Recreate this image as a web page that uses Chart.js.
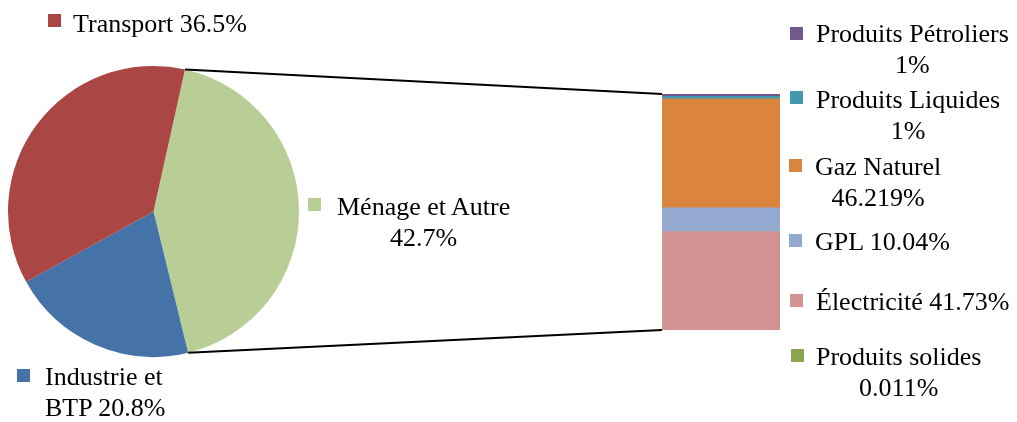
<!DOCTYPE html>
<html>
<head>
<meta charset="utf-8">
<script src="https://cdn.jsdelivr.net/npm/chart.js@4/dist/chart.umd.min.js"></script>
<style>
  html, body { margin: 0; padding: 0; background: #fff; }
  #wrap { position: relative; width: 1017px; height: 422px; overflow: hidden; }
  #wrap canvas { position: absolute; left: 0; top: 0; }
  .lbl { position: absolute; font-family: 'Liberation Serif', 'Times New Roman', serif; font-size: 26px; line-height: 31px; color: #000; white-space: nowrap; }
  .sq { position: absolute; width: 13px; height: 13px; }
</style>
</head>
<body>
<div id="wrap">
  <canvas id="pie" width="1017" height="422"></canvas>
  <canvas id="bar" width="1017" height="422"></canvas>
</div>
<script>
// ---- data ----
const pieLabels = ['Ménage et Autre', 'Industrie et BTP', 'Transport'];
const pieValues = [42.7, 20.8, 36.5];
const pieColors = ['#B9CE96', '#4572A7', '#AA4643'];

const barLabels = ['Électricité', 'GPL', 'Gaz Naturel', 'Produits Liquides', 'Produits Pétroliers', 'Produits solides'];
const barValues = [41.73, 10.04, 46.219, 1, 1, 0.011];
const barColors = ['#D19392', '#93A9CF', '#DB843D', '#4198AF', '#71588F', '#89A54E'];

// ---- label layout (positions only) ----
const pieLabelLayout = [
  { sqx: 308, sqy: 198, tx: 337, ty: 191, firstWords: 3, align: 'center' },
  { sqx: 17,  sqy: 369, tx: 45,  ty: 361, firstWords: 2, align: 'left' },
  { sqx: 48,  sqy: 14,  tx: 73,  ty: 8,   firstWords: 99, align: 'left' }
];
const barLabelLayout = [
  { sqx: 790, sqy: 294, tx: 816, ty: 286, firstWords: 99, align: 'left' },
  { sqx: 789, sqy: 234, tx: 815, ty: 226, firstWords: 99, align: 'left' },
  { sqx: 789, sqy: 159, tx: 815, ty: 151, firstWords: 2, align: 'center' },
  { sqx: 790, sqy: 91,  tx: 816, ty: 84,  firstWords: 2, align: 'center' },
  { sqx: 790, sqy: 27,  tx: 816, ty: 18,  firstWords: 2, align: 'center' },
  { sqx: 791, sqy: 349, tx: 816, ty: 341, firstWords: 2, align: 'center' }
];

function addLabel(name, value, color, lay) {
  const wrap = document.getElementById('wrap');
  const words = (name + ' ' + value + '%').split(' ');
  const first = words.slice(0, lay.firstWords).join(' ');
  const rest = words.slice(lay.firstWords).join(' ');
  const sq = document.createElement('div');
  sq.className = 'sq';
  sq.style.left = lay.sqx + 'px';
  sq.style.top = lay.sqy + 'px';
  sq.style.background = color;
  wrap.appendChild(sq);
  const d = document.createElement('div');
  d.className = 'lbl';
  d.style.left = lay.tx + 'px';
  d.style.top = lay.ty + 'px';
  d.style.textAlign = lay.align;
  d.textContent = first;
  if (rest) { d.appendChild(document.createElement('br')); d.appendChild(document.createTextNode(rest)); }
  wrap.appendChild(d);
}
pieLabels.forEach((n, i) => addLabel(n, pieValues[i], pieColors[i], pieLabelLayout[i]));
barLabels.forEach((n, i) => addLabel(n, barValues[i], barColors[i], barLabelLayout[i]));

// ---- pie chart ----
const pieChart = new Chart(document.getElementById('pie'), {
  type: 'pie',
  data: { labels: pieLabels, datasets: [{ data: pieValues, backgroundColor: pieColors, borderWidth: 0 }] },
  options: {
    responsive: false, animation: false, rotation: 12.5,
    layout: { padding: { left: 8, top: 66, right: 718, bottom: 65 } },
    plugins: { legend: { display: false }, tooltip: { enabled: false } }
  }
});

// ---- connector plugin ----
const connector = {
  id: 'connector',
  afterDraw(chart) {
    const arc = pieChart.getDatasetMeta(0).data[0];
    const ys = chart.scales.y;
    const firstBar = chart.getDatasetMeta(0).data[0];
    const left = firstBar.x - firstBar.width / 2;
    const total = barValues.reduce((a, b) => a + b, 0);
    const topY = ys.getPixelForValue(total);
    const botY = ys.getPixelForValue(0);
    const r = arc.outerRadius;
    const p1 = [arc.x + r * Math.cos(arc.startAngle), arc.y + r * Math.sin(arc.startAngle)];
    const p2 = [arc.x + r * Math.cos(arc.endAngle), arc.y + r * Math.sin(arc.endAngle)];
    const ctx = chart.ctx;
    ctx.save();
    ctx.strokeStyle = '#000';
    ctx.lineWidth = 2;
    ctx.beginPath();
    ctx.moveTo(p1[0], p1[1]); ctx.lineTo(left, topY);
    ctx.moveTo(p2[0], p2[1]); ctx.lineTo(left, botY);
    ctx.stroke();
    ctx.restore();
  }
};

// ---- stacked bar ----
new Chart(document.getElementById('bar'), {
  type: 'bar',
  data: {
    labels: [''],
    datasets: barLabels.map((n, i) => ({ label: n, data: [barValues[i]], backgroundColor: barColors[i], borderWidth: 0, barPercentage: 1, categoryPercentage: 1 }))
  },
  options: {
    responsive: false, animation: false,
    layout: { padding: { left: 662, top: 94, right: 237, bottom: 92 } },
    scales: {
      x: { stacked: true, display: false },
      y: { stacked: true, display: false, min: 0, max: barValues.reduce((a, b) => a + b, 0) }
    },
    plugins: { legend: { display: false }, tooltip: { enabled: false } }
  },
  plugins: [connector]
});
</script>
</body>
</html>
